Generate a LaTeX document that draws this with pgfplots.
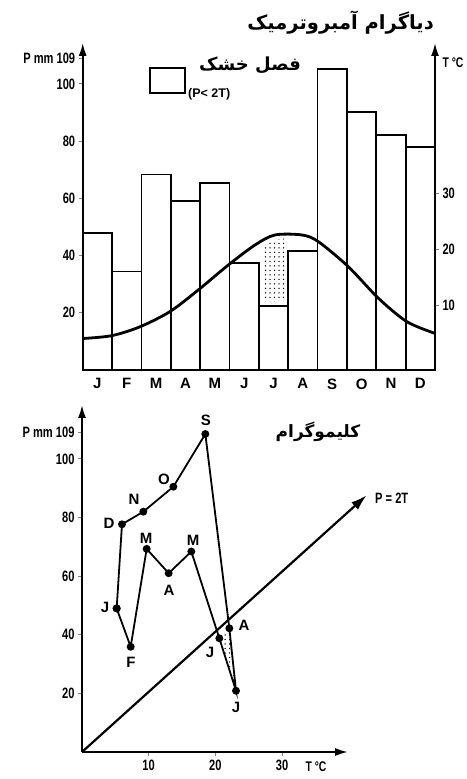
\documentclass[border=0pt]{standalone}
\usepackage{fontspec}
\setmainfont{Liberation Sans}
\newfontfamily\cond[FakeStretch=0.74]{Liberation Sans}
\newfontfamily\arabicfont[Script=Arabic]{DejaVu Sans}
\TeXXeTstate=1
\usepackage{pgfplots}
\pgfplotsset{compat=1.18}
\usetikzlibrary{arrows.meta,patterns}

\pgfdeclarepatternformonly{sparsedots}{\pgfqpoint{-1pt}{-1pt}}{\pgfqpoint{1pt}{1pt}}{\pgfqpoint{4.5pt}{4.5pt}}%
{\pgfpathcircle{\pgfqpoint{0pt}{0pt}}{0.75pt}\pgfusepath{fill}}

\pgfplotstableread{
m   P
0.5 47.8
1.5 34.4
2.5 68.3
3.5 59.2
4.5 65.5
5.5 37.3
6.5 22.4
7.5 41.7
8.5 105.2
9.5 90.1
10.5 82.2
11.5 77.9
}\rain

\pgfplotstableread{
x    P
0    11.0
0.99 12.0
1.95 15.1
2.97 20.4
3.94 28.0
4.96 36.7
5.87 43.7
6.55 47.2
7.46 47.2
8.02 44.9
9.05 36.1
10.07 25.1
11.04 16.9
12   12.8
}\tcurve

\pgfplotstableread{
T    P
5.2  49.0
7.3  35.9
9.7  69.3
13.0 61.0
16.4 68.4
20.6 38.8
23.1 20.9
22.1 42.2
18.5 108.5
13.7 90.5
9.2  82.0
6.0  77.7
5.2  49.0
}\clim

\begin{document}
\begin{tikzpicture}
\path[use as bounding box] (0pt,0pt) rectangle (466pt,779pt);

% ---------- Ombrothermic diagram ----------
\begin{axis}[
  at={(82.7pt,409pt)}, anchor=south west, scale only axis,
  width=352.3pt, height=327pt,
  xmin=0, xmax=12, ymin=0, ymax=114.3,
  axis x line=bottom, axis y line=left,
  axis line style={line width=1.8pt},
  x axis line style={-},
  y axis line style={-{Latex[length=13pt,width=8pt]}},
  xtick={0.5,1.5,...,11.5},
  xticklabels={J,F,M,A,M,J,J,A,S,O,N,D},
  x tick label style={font=\fontsize{15}{15}\selectfont\bfseries, yshift=-1pt},
  xtick style={draw=none},
  ytick={20,40,60,80,100,109},
  yticklabels={20,40,60,80,100,P mm 109},
  y tick label style={font=\cond\bfseries\fontsize{15}{15}\selectfont},
  tick align=outside, major tick length=4pt,
  ytick style={line width=1pt},
  /pgf/number format/assume math mode=true,
  clip=false,
]
\addplot[ybar, bar width=1, fill=white, draw=black, line width=1.8pt]
  table[x=m, y=P] {\rain};
\addplot[draw=none, pattern=sparsedots, pattern color=black]
  coordinates {(6.1,24) (6.9,24) (6.9,46.0) (6.5,45.5) (6.1,43.2)} -- cycle;
\addplot[smooth, line width=2.8pt, black] table[x=x, y=P] {\tcurve};
\end{axis}

\begin{axis}[
  at={(82.7pt,409pt)}, anchor=south west, scale only axis,
  width=352.3pt, height=327pt,
  xmin=0, xmax=12, ymin=-1.6, ymax=56.8,
  axis x line=none, axis y line=right,
  axis line style={line width=1.8pt},
  y axis line style={-{Latex[length=13pt,width=8pt]}},
  ytick={10,20,30},
  y tick label style={font=\cond\bfseries\fontsize{15}{15}\selectfont},
  tick align=outside, major tick length=4pt,
  ytick style={line width=1pt},
  /pgf/number format/assume math mode=true,
]
\addplot[draw=none] coordinates {(0,0)};
\end{axis}

% ---------- Climogram ----------
\begin{axis}[
  at={(82pt,27pt)}, anchor=south west, scale only axis,
  width=266pt, height=347pt,
  xmin=0, xmax=39.9, ymin=0, ymax=118.4,
  axis x line=bottom, axis y line=left,
  axis line style={line width=1.8pt},
  x axis line style={-{Latex[length=13pt,width=8pt]}},
  y axis line style={-{Latex[length=13pt,width=8pt]}},
  xtick={10,20,30},
  ytick={20,40,60,80,100,109},
  yticklabels={20,40,60,80,100,P mm 109},
  tick label style={font=\cond\bfseries\fontsize{15}{15}\selectfont},
  tick align=outside, major tick length=4pt,
  tick style={line width=1pt},
  /pgf/number format/assume math mode=true,
  clip=false,
]
\addplot[draw=none, pattern=sparsedots, pattern color=black]
  coordinates {(20.6,38.8) (23.1,20.9) (22.1,42.2)} -- cycle;
\addplot[line width=2.2pt, -{Latex[length=16pt,width=10pt]}]
  coordinates {(0,0) (42.7,87.6)};
\addplot[line width=1.8pt, black, mark=*, mark size=3pt,
  mark options={fill=black}] table[x=T, y=P] {\clim};
\end{axis}

\begin{scope}[x=1pt,y=1pt]
\node[anchor=east, inner sep=0] at (434,756)
  {\arabicfont\bfseries\fontsize{19.5}{22}\selectfont\beginR دیاگرام آمبروترمیک\endR};
\node[inner sep=0] at (250,714)
  {\arabicfont\bfseries\fontsize{18}{20}\selectfont\beginR فصل خشک\endR};
\draw[line width=1.6pt] (150,686) rectangle (185,711);
\node[anchor=west, inner sep=0] at (188,685) {\bfseries\fontsize{12.5}{13}\selectfont (P< 2T)};
\node[inner sep=0] at (453,716) {\cond\bfseries\fontsize{14}{14}\selectfont T °C};

\begin{scope}[font=\fontsize{15}{15}\selectfont\bfseries]
\node at (105,172) {J};
\node at (131,117) {F};
\node at (146,241) {M};
\node at (169,189) {A};
\node at (193,239) {M};
\node at (206,359) {S};
\node at (164,300) {O};
\node at (134,280) {N};
\node at (109,256) {D};
\node at (244,154) {A};
\node at (210,127) {J};
\node at (236,72) {J};
\end{scope}
\node[anchor=west, inner sep=0] at (375,281) {\cond\bfseries\fontsize{15}{15}\selectfont P = 2T};
\node[inner sep=0] at (318,347)
  {\arabicfont\bfseries\fontsize{17}{20}\selectfont\beginR کلیموگرام\endR};
\node[inner sep=0] at (316,12) {\cond\bfseries\fontsize{14}{14}\selectfont T °C};
\end{scope}
\end{tikzpicture}
\end{document}
